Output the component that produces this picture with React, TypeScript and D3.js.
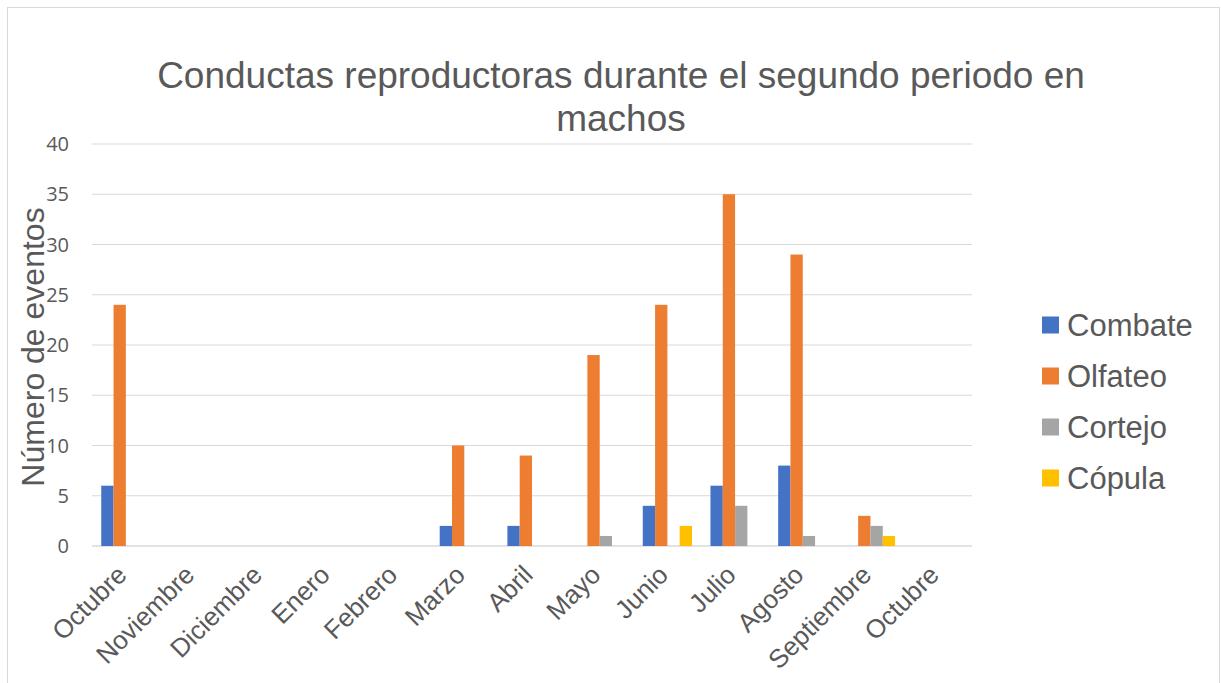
import * as d3 from 'd3';
import React from 'react';

const months = ['Octubre', 'Noviembre', 'Diciembre', 'Enero', 'Febrero', 'Marzo', 'Abril', 'Mayo', 'Junio', 'Julio', 'Agosto', 'Septiembre', 'Octubre'];
const seriesNames = ['Combate', 'Olfateo', 'Cortejo', 'Cópula'];
const combate = [6, 0, 0, 0, 0, 2, 2, 0, 4, 6, 8, 0, 0];
const olfateo = [24, 0, 0, 0, 0, 10, 9, 19, 24, 35, 29, 3, 0];
const cortejo = [0, 0, 0, 0, 0, 0, 0, 1, 0, 4, 1, 2, 0];
const copula = [0, 0, 0, 0, 0, 0, 0, 0, 2, 0, 0, 1, 0];
const yTicks = [0, 5, 10, 15, 20, 25, 30, 35, 40];
const colors = ['#4472C4', '#ED7D31', '#A5A5A5', '#FFC000'];

const W = 1221;
const H = 683;
const margin = { top: 144, right: 249, bottom: 137, left: 92 };

export default function App() {
  const values = [combate, olfateo, cortejo, copula];
  const innerW = W - margin.left - margin.right;
  const innerH = H - margin.top - margin.bottom;

  // one band per month (duplicate names, so use the index)
  const x = d3.scaleBand<number>()
    .domain(d3.range(months.length))
    .range([0, innerW]);
  const x1 = d3.scaleBand<number>()
    .domain(d3.range(seriesNames.length))
    .range([0, x.bandwidth() * 0.727]);
  const offset = (x.bandwidth() - x1.range()[1]) / 2;
  const y = d3.scaleLinear().domain([0, 40]).range([innerH, 0]);

  const grey = '#595959';

  return (
    <svg width={W} height={H} style={{ position: 'absolute', left: 0, top: 0 }}>
      <rect x={7.5} y={7.5} width={1212} height={690} fill="#fff" stroke="#D9D9D9" strokeWidth={1} />
      <text x={621} y={88} textAnchor="middle" fill={grey} fontFamily="Liberation Sans, Arial" fontSize={37}>
        Conductas reproductoras durante el segundo periodo en
      </text>
      <text x={621} y={131} textAnchor="middle" fill={grey} fontFamily="Liberation Sans, Arial" fontSize={37}>
        machos
      </text>
      <text
        transform={`translate(44,${margin.top + innerH / 2 + 2}) rotate(-90)`}
        textAnchor="middle"
        fill={grey}
        fontFamily="Liberation Sans, Arial"
        fontSize={32}
      >
        Número de eventos
      </text>
      <g transform={`translate(${margin.left},${margin.top})`}>
        {yTicks.map(t => (
          <g key={t}>
            <line x1={0} x2={innerW} y1={y(t)} y2={y(t)} stroke="#D9D9D9" strokeWidth={t === 0 ? 1.5 : 1.2} />
            <text x={-23} y={y(t)} dy="0.35em" textAnchor="end" fill={grey} fontFamily="Open Sans, Liberation Sans" fontSize={20}>
              {t}
            </text>
          </g>
        ))}
        {months.map((m, i) => (
          <g key={i} transform={`translate(${x(i)! + offset},0)`}>
            {values.map((vals, s) => vals[i] > 0 ? (
              <rect
                key={s}
                x={x1(s)}
                y={y(vals[i])}
                width={x1.bandwidth()}
                height={innerH - y(vals[i])}
                fill={colors[s]}
              />
            ) : null)}
          </g>
        ))}
        {months.map((m, i) => (
          <text
            key={'l' + i}
            transform={`translate(${x(i)! + x.bandwidth() / 2 - 4},${innerH + 24}) rotate(-45)`}
            textAnchor="end"
            dy="0.35em"
            fill={grey}
            fontFamily="Liberation Sans, Arial"
            fontSize={26}
          >
            {m}
          </text>
        ))}
      </g>
      {seriesNames.map((s, i) => (
        <g key={s} transform={`translate(1042,${325 + i * 51})`}>
          <rect x={0} y={-8.5} width={17} height={17} fill={colors[i]} />
          <text x={25} y={0} dy="0.36em" fill={grey} fontFamily="Liberation Sans, Arial" fontSize={31}>
            {s}
          </text>
        </g>
      ))}
    </svg>
  );
}
